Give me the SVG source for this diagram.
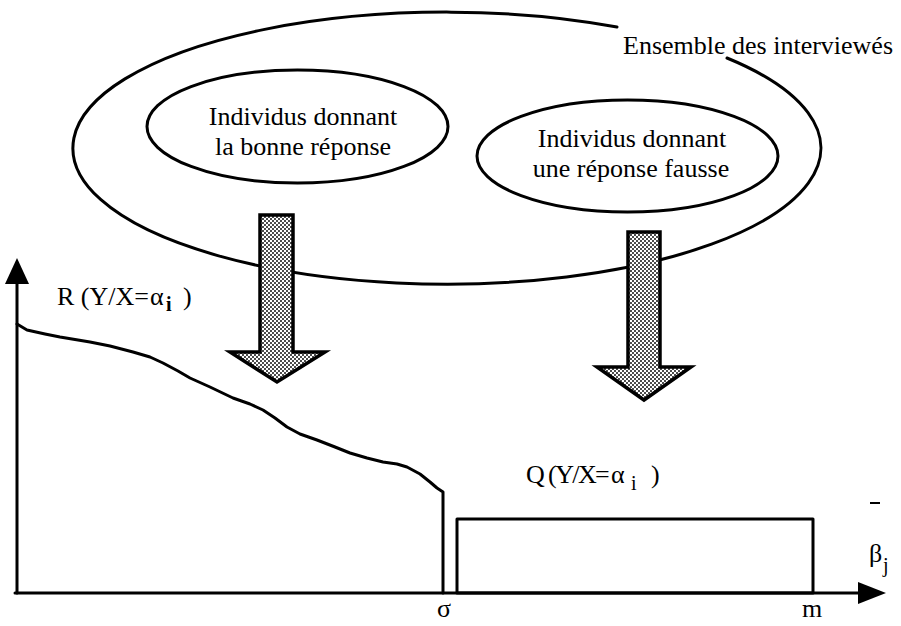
<svg xmlns="http://www.w3.org/2000/svg" width="901" height="626" viewBox="0 0 901 626">
<style>
  .t { font-family: "Liberation Serif", "Times New Roman", serif; font-size: 26px; fill: #000; }
  .sub { font-size: 20px; }
  .ln { fill: none; stroke: #000; stroke-width: 3; stroke-linejoin: round; stroke-linecap: round; }
  .arr { fill: url(#dots); stroke: #000; stroke-width: 3.5; stroke-linejoin: miter; }
</style>
<defs>
  <pattern id="dots" width="4" height="4" patternUnits="userSpaceOnUse">
    <rect width="4" height="4" fill="#fff"/>
    <circle cx="1" cy="1" r="0.95" fill="#000"/>
    <circle cx="3" cy="3" r="0.95" fill="#000"/>
  </pattern>
</defs>
<rect width="901" height="626" fill="#fff"/>

<g id="ensemble">
  <path class="ln" d="M 727 58 A 374 136 0 1 1 617 27"/>
  <text class="t" x="623" y="54">Ensemble des interviewés</text>
</g>

<g id="bonne">
  <ellipse class="ln" cx="297.5" cy="126.5" rx="150.5" ry="56.5"/>
  <text class="t" x="303" y="125" text-anchor="middle">Individus donnant</text>
  <text class="t" x="303" y="155" text-anchor="middle">la bonne réponse</text>
</g>

<g id="fausse">
  <ellipse class="ln" cx="627.5" cy="156" rx="150.5" ry="56"/>
  <text class="t" x="632" y="147" text-anchor="middle">Individus donnant</text>
  <text class="t" x="631" y="177" text-anchor="middle">une réponse fausse</text>
</g>

<g id="connectors">
  <polygon class="arr" points="260,215 293,215 293,352 325,352 277,382 230,352 260,352"/>
  <polygon class="arr" points="628,232 660,232 660,367 691,367 644,400 597,367 628,367"/>
</g>

<g id="chart">
  <line class="ln" x1="17" y1="593" x2="17" y2="280"/>
  <polygon points="17,258 29,284 5,284" fill="#000"/>
  <line class="ln" x1="15" y1="593" x2="862" y2="593"/>
  <polygon points="886,593 858,582 858,604" fill="#000"/>
  <polyline class="ln" points="17,324 27,330 45,334 60,337 90,342 110,346 133,352 150,357 163,363 178,371 190,378 210,387 233,398 250,404 263,410 275,418 287,427 300,434 317,440 335,447 350,453 367,458 383,462 397,464 407,467 420,474 430,482 437,488 443,492 443,593"/>
  <rect class="ln" x="457" y="519" width="356" height="74"/>
  <line x1="870" y1="503" x2="880" y2="503" stroke="#000" stroke-width="2"/>
</g>

<g id="labels">
  <text class="t" x="57" y="305">R (Y/X=<tspan x="150">α</tspan><tspan class="sub" x="166" y="311" font-weight="bold">i</tspan><tspan x="183" y="305">)</tspan></text>
  <text class="t" x="526" y="483"><tspan letter-spacing="-1.6">Q (Y/X=</tspan><tspan x="611">α</tspan><tspan class="sub" x="631" y="490">i</tspan><tspan x="651" y="483">)</tspan></text>
  <text class="t" x="444" y="617" text-anchor="middle">σ</text>
  <text class="t" x="812" y="617" text-anchor="middle">m</text>
  <text class="t" x="869" y="562" font-size="28">β<tspan class="sub" x="883" y="572">j</tspan></text>
</g>
</svg>
